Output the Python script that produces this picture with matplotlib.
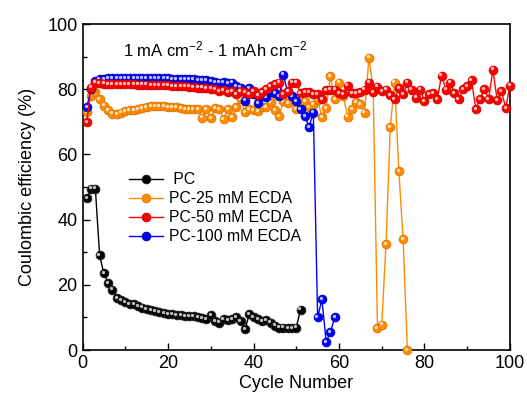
import matplotlib
matplotlib.use("Agg")
import matplotlib.pyplot as plt
from matplotlib import transforms
from matplotlib.ticker import MultipleLocator

# Coulombic efficiency (%) per cycle
pc = [46.5, 49.5, 49.5, 29, 23.5, 20.5, 18.5, 16, 15.2, 14.8,
      14.2, 14, 13.5, 13, 12.5, 12.3, 12, 11.6, 11.3, 11.1,
      10.9, 10.7, 10.6, 10.5, 10.4, 10.3, 10.1, 9.8, 9.5, 10.8,
      8.8, 8.4, 9.4, 9.2, 9.5, 10, 8.8, 6.3, 10.9, 10.1,
      9.4, 8.8, 9.2, 8.4, 7.5, 6.9, 6.9, 6.8, 6.8, 6.9,
      12.4]

pc_25 = [73, 78, 79, 77, 75, 73.5, 72.5, 72.3, 72.8, 73.2,
         73.5, 73.6, 73.9, 74.2, 74.6, 74.8, 74.8, 74.8, 74.7, 74.5,
         74.5, 74.6, 74.3, 74, 73.8, 74, 73.8, 71.3, 74, 71.1,
         74.3, 74, 70.8, 74, 71.5, 74.5, 77, 73, 74, 73.5,
         73.3, 74.4, 74.4, 76, 73.5, 71.8, 76.4, 75.8, 77.9, 73.8,
         74.4, 76.4, 74.4, 75.3, 76.8, 71.4, 74.3, 84, 76.9, 82,
         78, 71.6, 73.8, 76, 75.5, 72.8, 89.7, 80, 6.8, 7.8,
         32.5, 68.4, 82, 55, 34, 0]

pc_50 = [70, 80.5, 82, 81.8, 81.7, 81.6, 81.6, 81.6, 81.5, 81.5,
         81.5, 81.5, 81.4, 81.4, 81.4, 81.3, 81.3, 81.3, 81.2, 81.2,
         81, 81, 81, 80.9, 80.8, 80.6, 80.5, 80.5, 80.3, 80.2,
         80, 79.5, 79.8, 79, 79.5, 78.6, 79.4, 79, 78.5, 79.3,
         78.2, 79, 80, 81, 81.5, 82, 78.5, 79.4, 82, 82,
         78.9, 79, 79, 78.4, 78.4, 76.9, 79.7, 79.9, 79.9, 78.8,
         78.5, 81.1, 78.8, 78.7, 79, 79.9, 82, 79, 80.8, 79.5,
         79.9, 78.2, 76.9, 80.3, 78.4, 82, 79.9, 77.4, 79.9, 76.4,
         78.4, 78.8, 76.9, 84.2, 79.9, 82, 78.8, 76.9, 80, 80.9,
         82.7, 74, 77, 80, 76.9, 86, 76.6, 79.4, 74.3, 81.1]

pc_100 = [74.5, 80, 82.5, 83, 83.2, 83.4, 83.5, 83.5, 83.5, 83.5,
          83.5, 83.5, 83.5, 83.5, 83.5, 83.4, 83.4, 83.4, 83.3, 83.3,
          83.2, 83.2, 83.1, 83.1, 83, 83, 82.9, 82.8, 82.7, 82.5,
          82.2, 82, 82.2, 81.8, 82, 81, 80.5, 76.5, 80.4, 78.5,
          75.8, 78, 77.5, 79, 78.8, 78, 84.5, 79, 78, 76.3,
          74, 71.8, 68.5, 72.8, 10, 15.5, 2.5, 5.5, 10]

labels = [" PC", "PC-25 mM ECDA", "PC-50 mM ECDA", "PC-100 mM ECDA"]
colors = ["black", "#FF8C00", "#FF0000", "#0000FF"]
edges = ["#222222", "#E07000", "#D00000", "#0000C0"]

plt.rcParams["font.family"] = ["Liberation Sans", "DejaVu Sans"]
plt.rcParams["mathtext.default"] = "regular"

fig = plt.figure(figsize=(5.27, 4.05), dpi=100)
ax = fig.add_axes([0.1566, 0.1358, 0.8111, 0.8049])

shine = transforms.offset_copy(ax.transData, fig=fig, x=-1.2, y=1.2, units="dots")

series = [pc, pc_25, pc_50, pc_100]
zorders = [6, 3, 5, 4]
handles = []
for vals, lab, col, ec, z in zip(series, labels, colors, edges, zorders):
    cyc = list(range(1, len(vals) + 1))
    line, = ax.plot(cyc, vals, "-o", color=col, lw=1.0, ms=6.3, mec=ec, mew=0.6,
                    label=lab, zorder=z, clip_on=False)
    ax.plot(cyc, vals, "o", color="white", ms=2.4, alpha=0.75, mew=0,
            transform=shine, zorder=z + 0.1, clip_on=False)
    handles.append(line)

ax.set_xlim(0, 100)
ax.set_ylim(0, 100)
ax.xaxis.set_major_locator(MultipleLocator(20))
ax.xaxis.set_minor_locator(MultipleLocator(10))
ax.yaxis.set_major_locator(MultipleLocator(20))
ax.yaxis.set_minor_locator(MultipleLocator(10))
ax.tick_params(which="both", direction="in", width=1.0, labelsize=13)
ax.tick_params(which="major", length=5)
ax.tick_params(which="minor", length=3)
for sp in ax.spines.values():
    sp.set_linewidth(1.2)

ax.set_xlabel("Cycle Number", fontsize=13, labelpad=2)
ax.set_ylabel("Coulombic efficiency (%)", fontsize=13, labelpad=8)

ax.text(0.094, 0.922, "1 mA cm$^{-2}$ - 1 mAh cm$^{-2}$", transform=ax.transAxes,
        fontsize=12, va="center", ha="left")

ax.legend(handles=handles, loc="center left", bbox_to_anchor=(0.108, 0.435),
          frameon=False, fontsize=11.3, borderpad=0, borderaxespad=0,
          handlelength=2.2, handletextpad=0.4, labelspacing=0.25)

fig.savefig("out.png", dpi=100)
